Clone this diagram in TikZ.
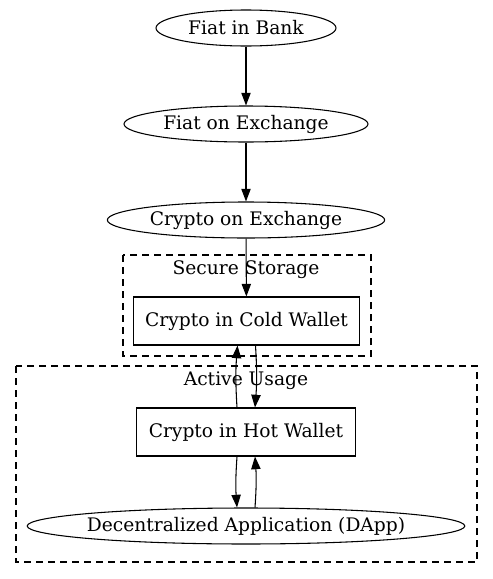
\documentclass[tikz,border=0pt]{standalone}
\usepackage{fontspec}
\setmainfont{DejaVu Serif}
\usetikzlibrary{shapes.geometric,arrows.meta}
\tikzset{every node/.style={draw,inner sep=0pt,font=\fontsize{14}{17}\selectfont}}
\tikzset{oval/.style={ellipse,minimum height=27pt}}
\tikzset{box/.style={rectangle,minimum height=36pt}}
\tikzset{arr/.style={-{Triangle[length=9.5pt,width=7pt]}}}
\tikzset{cluster/.style={dashed,dash pattern=on 5.5pt off 3.5pt}}

\begin{document}
\begin{tikzpicture}[x=0.75pt,y=-0.75pt,line width=0.8pt]
      \useasboundingbox (0,0) rectangle (493,579);
      % clusters
      \draw[cluster] (123,255) rectangle (371,356);
      \draw[cluster] (16,366) rectangle (477,562);
      \node[draw=none] (securelbl) at (246,270) {Secure Storage};
      \node[draw=none] (activelbl) at (246,381) {Active Usage};
      \node[oval,minimum width=135pt] (bank) at (246,28) {Fiat in Bank};
      \node[oval,minimum width=183pt] (fiatex) at (246,124) {Fiat on Exchange};
      \node[oval,minimum width=208pt] (cryptoex) at (246,220) {Crypto on Exchange};
      \node[box,minimum width=169pt] (cold) at (246.5,321) {Crypto in Cold Wallet};
      \node[box,minimum width=164pt] (hot) at (246,432) {Crypto in Hot Wallet};
      \node[oval,inner xsep=-3.3pt] (dapp) at (246,526) {Decentralized Application (DApp)};
      \foreach \a/\b in {bank/fiatex,fiatex/cryptoex,cryptoex/cold}
        \draw[arr] (\a) -- (\b);
      \draw[arr] ([xshift=6.75pt]cold.south) to[bend left=4] ([xshift=6.75pt]hot.north);
      \draw[arr] ([xshift=-6.75pt]hot.north) to[bend left=4] ([xshift=-6.75pt]cold.south);
      \draw[arr] ([xshift=-6.75pt]hot.south) to[bend right=4] ([xshift=-6.75pt]dapp.north);
      \draw[arr] ([xshift=6.75pt]dapp.north) to[bend right=4] ([xshift=6.75pt]hot.south);
    \end{tikzpicture}
\end{document}
